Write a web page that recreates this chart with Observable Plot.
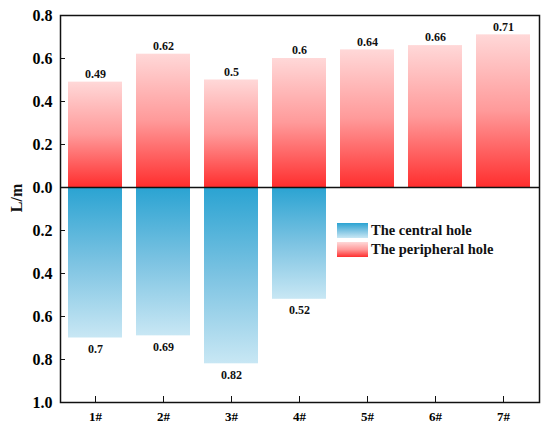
<!DOCTYPE html>
<html><head><meta charset="utf-8">
<script src="https://cdn.jsdelivr.net/npm/d3@7"></script>
<script src="https://cdn.jsdelivr.net/npm/@observablehq/plot@0.6"></script>
<style>
body{margin:0;background:#fff;}
</style></head><body><div id="chart"></div>
<script>
const categories = ["1#","2#","3#","4#","5#","6#","7#"];
const peripheral = [0.49,0.62,0.5,0.6,0.64,0.66,0.71];
const central = [0.7,0.69,0.82,0.52,null,null,null];
const yTicks = [-1,-0.8,-0.6,-0.4,-0.2,0,0.2,0.4,0.6,0.8];
const seriesNames = ["The central hole","The peripheral hole"];
const yLabel = "L/m";

const upperData = categories.map((c,i)=>({c, v: peripheral[i]}));
const lowerData = categories.map((c,i)=>({c, v: central[i]})).filter(d=>d.v!=null);
const FONT = "'Liberation Serif', 'DejaVu Serif', serif";

const plot = Plot.plot({
  width: 550, height: 433,
  marginLeft: 60, marginRight: 11, marginTop: 15, marginBottom: 31,
  style: {background: "#fff"},
  x: {domain: categories, paddingInner: 0.2, paddingOuter: 0.1},
  y: {domain: [-1, 0.8]},
  marks: [
    () => {
      const ns = "http://www.w3.org/2000/svg";
      const defs = document.createElementNS(ns, "defs");
      defs.innerHTML = `
        <linearGradient id="gRed" x1="0" y1="0" x2="0" y2="1">
          <stop offset="0" stop-color="#ffd8d8"/><stop offset="0.5" stop-color="#ff9a9a"/><stop offset="1" stop-color="#ff2e2e"/>
        </linearGradient>
        <linearGradient id="gBlue" x1="0" y1="0" x2="0" y2="1">
          <stop offset="0" stop-color="#2aa3d2"/><stop offset="0.5" stop-color="#7cc3e2"/><stop offset="1" stop-color="#c8e7f4"/>
        </linearGradient>`;
      return defs;
    },
    Plot.barY(upperData, {x: "c", y: "v", fill: "url(#gRed)"}),
    Plot.barY(lowerData, {x: "c", y: d => -d.v, fill: "url(#gBlue)"}),
    Plot.text(upperData, {x: "c", y: "v", text: d => String(d.v), dy: -8, fill: "#111", fontSize: 12}),
    Plot.text(lowerData, {x: "c", y: d => -d.v, text: d => String(d.v), dy: 11, fill: "#111", fontSize: 12}),
    Plot.ruleY([0], {stroke: "#111", strokeWidth: 1.5}),
    Plot.frame({stroke: "#111", strokeWidth: 1.5}),
    Plot.axisY({ticks: yTicks, tickFormat: d => Math.abs(d).toFixed(1), tickSize: -5, tickPadding: 13,
      label: null, stroke: "#111", fontSize: 16}),
    Plot.axisX({tickSize: -6, tickPadding: 15, label: null, stroke: "#111", fontSize: 13})
  ]
});
document.getElementById("chart").appendChild(plot);

const svg = d3.select(plot);
svg.append("text").attr("transform", "translate(22,198) rotate(-90)")
  .style("text-anchor", "middle").style("font-size", "16px").attr("fill", "#111").text(yLabel);
const lg = svg.append("g").attr("class", "legend");
const grads = ["url(#gBlue)", "url(#gRed)"];
seriesNames.forEach((n,i)=>{
  const y0 = 223 + i*19;
  lg.append("rect").attr("x",337).attr("y",y0).attr("width",31).attr("height",15).attr("fill",grads[i]);
  lg.append("text").attr("x",371).attr("y",y0+12).attr("fill","#111").style("text-anchor","start").style("font-size","14.5px").text(n);
});
svg.selectAll("text").style("font-family", FONT).style("font-weight", "bold");
</script></body></html>
